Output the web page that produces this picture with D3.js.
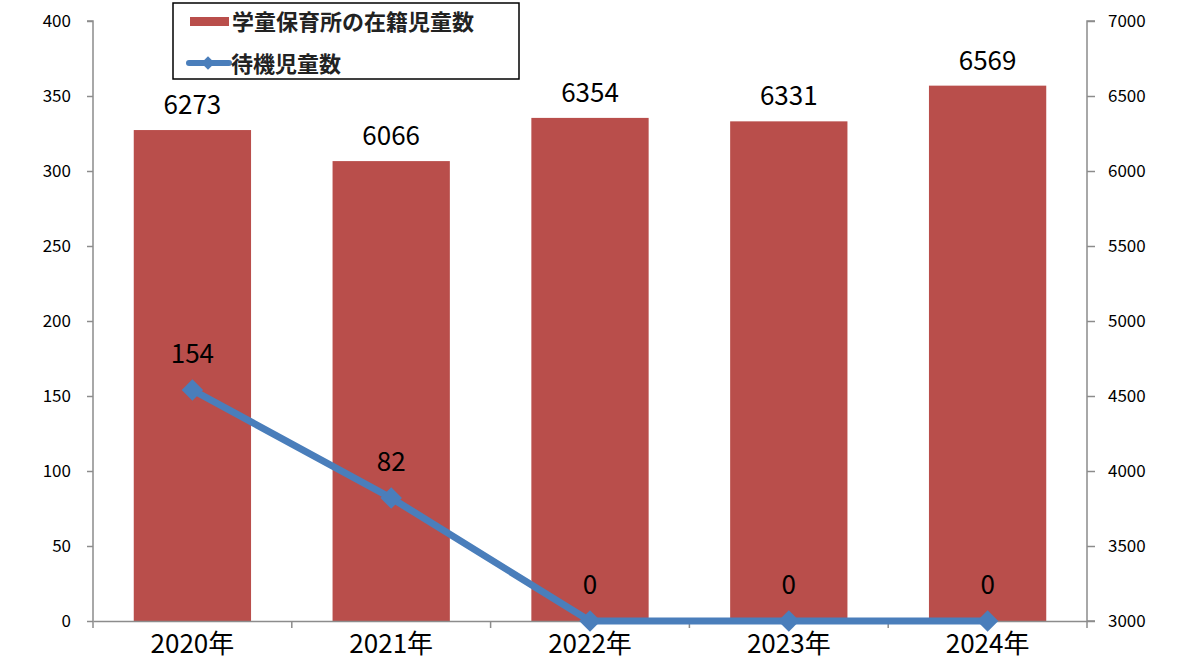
<!DOCTYPE html>
<meta charset="utf-8">
<style>
body { margin: 0; background: #fff; }
text { font-family: "Noto Sans CJK JP", "Noto Sans", sans-serif; }
</style>
<script src="https://d3js.org/d3.v7.min.js"></script>
<div id="chart"></div>
<script>
// data
var years = ["2020年", "2021年", "2022年", "2023年", "2024年"];
var enrolled = [6273, 6066, 6354, 6331, 6569];   // 学童保育所の在籍児童数 (right axis)
var waiting = [154, 82, 0, 0, 0];                 // 待機児童数 (left axis)
var leftTicks = [0, 50, 100, 150, 200, 250, 300, 350, 400];
var rightTicks = [3000, 3500, 4000, 4500, 5000, 5500, 6000, 6500, 7000];

var W = 1200, H = 662;
var margin = {top: 21, right: 113, bottom: 41, left: 93},
    width = W - margin.left - margin.right,
    height = H - margin.top - margin.bottom;

var svg = d3.select("#chart").append("svg")
    .attr("width", W).attr("height", H)
  .append("g")
    .attr("transform", "translate(" + margin.left + "," + margin.top + ")");

var x = d3.scaleBand().domain(years).range([0, width]).paddingInner(0.41).paddingOuter(0.205);
var xc = d3.scaleBand().domain(years).range([0, width]);
var yL = d3.scaleLinear().domain([0, 400]).range([height, 0]);
var yR = d3.scaleLinear().domain([3000, 7000]).range([height, 0]);

var axisColor = "#8c8c8c";

// bars
svg.selectAll(".bar")
    .data(enrolled)
    .enter().append("rect")
    .attr("class", "bar")
    .attr("x", function(d, i) { return x(years[i]); })
    .attr("width", x.bandwidth())
    .attr("y", function(d) { return yR(d); })
    .attr("height", function(d) { return height - yR(d); })
    .attr("fill", "#b94e4b");

svg.selectAll(".barlabel")
    .data(enrolled)
    .enter().append("text")
    .attr("x", function(d, i) { return xc(years[i]) + xc.bandwidth() / 2; })
    .attr("y", function(d) { return yR(d) - 16; })
    .attr("text-anchor", "middle")
    .style("font-size", "26px")
    .text(function(d) { return d; });

// axes
var left = svg.append("g")
    .call(d3.axisLeft(yL).tickValues(leftTicks).tickSize(6).tickPadding(16));
left.selectAll("text").style("font-size", "17px").attr("fill", "#000");

var right = svg.append("g")
    .attr("transform", "translate(" + width + ",0)")
    .call(d3.axisRight(yR).tickValues(rightTicks).tickFormat(d3.format("d")).tickSize(8).tickPadding(13));
right.selectAll("text").style("font-size", "17px").attr("fill", "#000");

var bottom = svg.append("g")
    .attr("transform", "translate(0," + height + ")")
    .call(d3.axisBottom(xc).tickSize(0).tickPadding(14));
bottom.selectAll("text").style("font-size", "26px").attr("fill", "#000");
// category boundary ticks
bottom.selectAll(".bnd")
    .data(d3.range(years.length + 1))
    .enter().append("line")
    .attr("x1", function(i) { return i * xc.step(); })
    .attr("x2", function(i) { return i * xc.step(); })
    .attr("y1", 0).attr("y2", 7)
    .attr("stroke", axisColor).attr("stroke-width", 1.5);

[left, right, bottom].forEach(function(g) {
    g.select(".domain").attr("stroke", axisColor).attr("stroke-width", 1.5);
    g.selectAll(".tick line").attr("stroke", axisColor).attr("stroke-width", 1.5);
});
left.select(".domain").attr("d", "M-6,0H0V" + height);
right.select(".domain").attr("d", "M8,0H0V" + height + "H8");

// line
var line = d3.line()
    .x(function(d, i) { return xc(years[i]) + xc.bandwidth() / 2; })
    .y(function(d) { return yL(d); });

svg.append("path")
    .datum(waiting)
    .attr("d", line)
    .attr("fill", "none")
    .attr("stroke", "#4a7ebb")
    .attr("stroke-width", 7);

var diamond = d3.symbol().type(d3.symbolSquare).size(230);
svg.selectAll(".pt")
    .data(waiting)
    .enter().append("path")
    .attr("d", diamond)
    .attr("transform", function(d, i) {
        return "translate(" + (xc(years[i]) + xc.bandwidth() / 2) + "," + yL(d) + ") rotate(45)";
    })
    .attr("fill", "#4a7ebb");

svg.selectAll(".ptlabel")
    .data(waiting)
    .enter().append("text")
    .attr("x", function(d, i) { return xc(years[i]) + xc.bandwidth() / 2; })
    .attr("y", function(d) { return yL(d) - 27; })
    .attr("text-anchor", "middle")
    .style("font-size", "26px")
    .text(function(d) { return d; });

// legend
var lg = d3.select("svg").append("g");
lg.append("rect")
    .attr("x", 173).attr("y", 3).attr("width", 346).attr("height", 76)
    .attr("fill", "#fff").attr("stroke", "#000").attr("stroke-width", 1.5);
lg.append("rect")
    .attr("x", 190).attr("y", 17).attr("width", 39).attr("height", 9)
    .attr("fill", "#b94e4b");
lg.append("text")
    .attr("x", 232).attr("y", 30)
    .style("font-size", "22px").style("font-weight", "bold")
    .attr("fill", "#222")
    .text("学童保育所の在籍児童数");
lg.append("line")
    .attr("x1", 189).attr("x2", 229).attr("y1", 63).attr("y2", 63)
    .attr("stroke", "#4a7ebb").attr("stroke-width", 6).attr("stroke-linecap", "round");
lg.append("path")
    .attr("d", d3.symbol().type(d3.symbolSquare).size(90))
    .attr("transform", "translate(208,63) rotate(45)")
    .attr("fill", "#4a7ebb");
lg.append("text")
    .attr("x", 231).attr("y", 72)
    .style("font-size", "22px").style("font-weight", "bold")
    .attr("fill", "#222")
    .text("待機児童数");
</script>
